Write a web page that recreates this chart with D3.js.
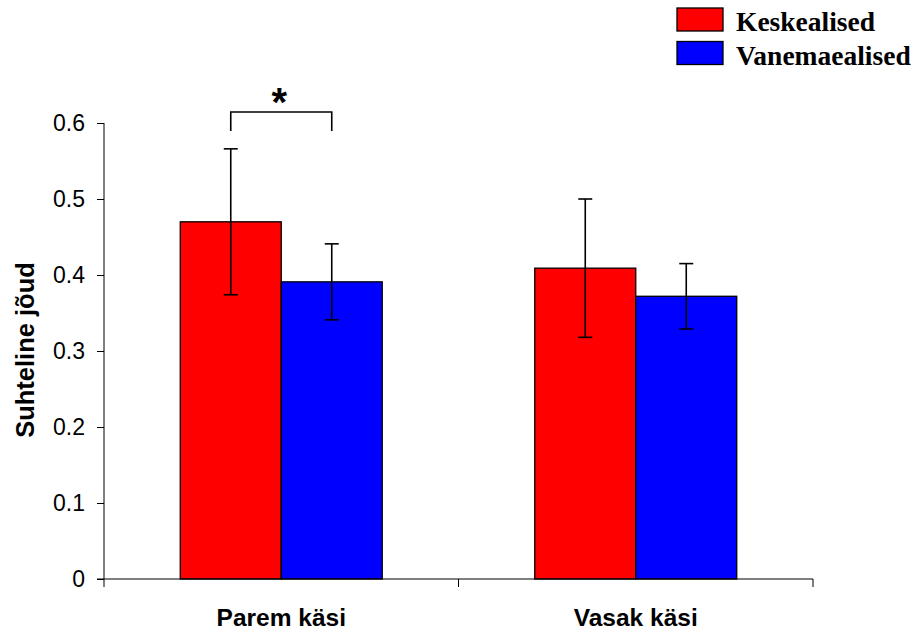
<!DOCTYPE html>
<html><head><meta charset="utf-8">
<script src="https://cdn.jsdelivr.net/npm/d3@7"></script>
<style>body{margin:0;background:#fff}svg{display:block}</style>
</head><body>
<script>
const categories = ["Parem käsi", "Vasak käsi"];
const seriesNames = ["Keskealised", "Vanemaealised"];
const seriesColors = ["#FF0000", "#0000FF"];
const keskealised = [0.47, 0.409];
const vanemaealised = [0.391, 0.372];
const errKeskealised = [0.096, 0.091];
const errVanemaealised = [0.05, 0.043];
const yTicks = [0, 0.1, 0.2, 0.3, 0.4, 0.5, 0.6];
const yTitle = "Suhteline jõud";

(function () {
const W = 917, H = 634;
const svg = d3.select("body").append("svg").attr("width", W).attr("height", H);
const mLeft = 104, mRight = 813, mTop = 123, mBottom = 579;
const sans = "Liberation Sans, Arial, sans-serif";

const y = d3.scaleLinear().domain([0, 0.6]).range([mBottom, mTop]);
const x0 = d3.scaleBand().domain(categories).range([mLeft, mRight]).padding(0);
const x1 = d3.scaleBand().domain(seriesNames).range([0, x0.bandwidth()]).paddingInner(0).paddingOuter(0.755);

const vals = [keskealised, vanemaealised];
const errs = [errKeskealised, errVanemaealised];
const data = [];
categories.forEach((c, i) => seriesNames.forEach((s, j) => data.push({c, s, j, v: vals[j][i], e: errs[j][i]})));

// bars
svg.append("g").selectAll("rect").data(data).join("rect")
  .attr("x", d => x0(d.c) + x1(d.s))
  .attr("y", d => y(d.v))
  .attr("width", x1.bandwidth())
  .attr("height", d => y(0) - y(d.v))
  .attr("fill", d => seriesColors[d.j])
  .attr("stroke", "#000").attr("stroke-width", 1.3);

// error bars
const eg = svg.append("g").attr("stroke", "#000").attr("stroke-width", 1.6);
data.forEach(d => {
  const cx = x0(d.c) + x1(d.s) + x1.bandwidth() / 2;
  eg.append("line").attr("x1", cx).attr("x2", cx).attr("y1", y(d.v + d.e)).attr("y2", y(d.v - d.e));
  [d.v + d.e, d.v - d.e].forEach(v => eg.append("line").attr("x1", cx - 7).attr("x2", cx + 7).attr("y1", y(v)).attr("y2", y(v)));
});

// y axis
const yAxis = svg.append("g").attr("transform", `translate(${mLeft},0)`)
  .call(d3.axisLeft(y).tickValues(yTicks).tickFormat(d => d === 0 ? "0" : d3.format(".1f")(d)).tickSize(7).tickPadding(12));
yAxis.select(".domain").attr("d", `M0,${mTop}V${mBottom}`).attr("stroke", "#000");
yAxis.selectAll("text").attr("font-family", sans).attr("font-size", 23).attr("fill", "#000");
yAxis.selectAll("line").attr("stroke", "#000");

// x axis
const xAxis = svg.append("g").attr("transform", `translate(0,${mBottom})`);
xAxis.append("line").attr("x1", mLeft - 7).attr("x2", mRight).attr("y1", 0).attr("y2", 0).attr("stroke", "#000");
const bounds = [...categories.map(c => x0(c)), x0(categories[categories.length - 1]) + x0.bandwidth()];
xAxis.selectAll("line.t").data(bounds).join("line").attr("class", "t")
  .attr("x1", d => d).attr("x2", d => d).attr("y1", 0).attr("y2", 8).attr("stroke", "#000");
xAxis.selectAll("text").data(categories).join("text")
  .attr("x", d => x0(d) + x0.bandwidth() / 2).attr("y", 47)
  .attr("text-anchor", "middle").attr("font-family", sans)
  .attr("font-weight", "bold").attr("font-size", 24.5).text(d => d);

// y title
svg.append("text").attr("transform", `translate(34,${(mTop + mBottom) / 2 - 1}) rotate(-90)`)
  .attr("text-anchor", "middle").attr("font-family", sans)
  .attr("font-weight", "bold").attr("font-size", 25.5).text(yTitle);

// significance bracket
const bx1 = x0(categories[0]) + x1(seriesNames[0]) + x1.bandwidth() / 2;
const bx2 = x0(categories[0]) + x1(seriesNames[1]) + x1.bandwidth() / 2;
svg.append("path").attr("d", `M${bx1},${131}V${112}H${bx2}V${131}`).attr("fill", "none").attr("stroke", "#000").attr("stroke-width", 1.6);
svg.append("text").attr("x", (bx1 + bx2) / 2 - 2).attr("y", 116).attr("text-anchor", "middle")
  .attr("font-family", sans).attr("font-weight", "bold").attr("font-size", 40).text("*");

// legend
const lg = svg.append("g").attr("transform", "translate(677,8)");
seriesNames.forEach((s, i) => {
  const g = lg.append("g").attr("transform", `translate(0,${i * 33.5})`);
  g.append("rect").attr("x", 0).attr("y", 0).attr("width", 46).attr("height", 23)
    .attr("fill", seriesColors[i]).attr("stroke", "#000").attr("stroke-width", 1.3);
  g.append("text").attr("x", 59).attr("y", 23).attr("font-family", "Liberation Serif, Times New Roman, serif")
    .attr("font-weight", "bold").attr("font-size", 27.5).text(s);
});
})();
</script>
</body></html>
